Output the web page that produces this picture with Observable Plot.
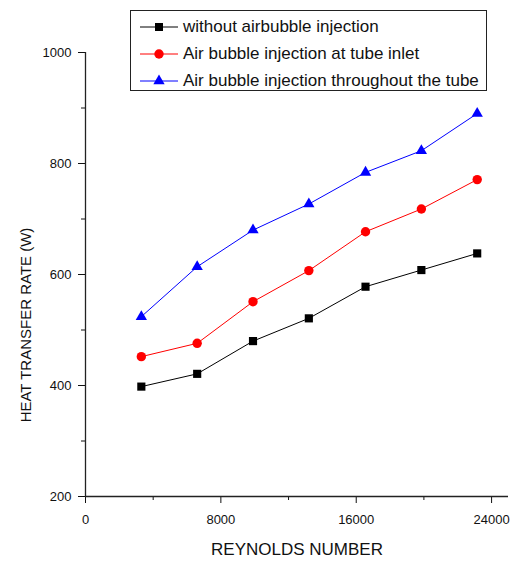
<!DOCTYPE html>
<html>
<head>
<meta charset="utf-8">
<script src="https://cdn.jsdelivr.net/npm/d3@7"></script>
<script src="https://cdn.jsdelivr.net/npm/@observablehq/plot@0.6"></script>
<style>
  html, body { margin: 0; padding: 0; background: #fff; }
  #wrap { position: relative; width: 516px; height: 565px; font-family: "Liberation Sans", Arial, sans-serif; }
  #legend { position: absolute; left: 130px; top: 10px; width: 355px; height: 79px; border: 1px solid #222; background: #fff; box-sizing: content-box; }
  .row { position: absolute; left: 0; height: 20px; display: flex; align-items: center; font-size: 17px; color: #111; white-space: nowrap; }
  .row svg { margin-left: 9px; margin-right: 5px; }
</style>
</head>
<body>
<div id="wrap"></div>
<script>
const reynolds = [3300, 6600, 9900, 13200, 16550, 19850, 23150];
const withoutBubble = [398, 421, 480, 521, 578, 608, 638];
const bubbleInlet = [452, 476, 551, 607, 677, 718, 771];
const bubbleThroughout = [524, 614, 680, 727, 784, 823, 890];
const seriesNames = ["without airbubble injection", "Air bubble injection at tube inlet", "Air bubble injection throughout the tube"];
const seriesColors = ["#000000", "#ff0000", "#0000ff"];
const seriesSymbols = ["square", "circle", "triangle"];
const xMajorTicks = [0, 8000, 16000, 24000];
const xMinorTicks = [4000, 12000, 20000];
const yMajorTicks = [200, 400, 600, 800, 1000];
const yMinorTicks = [300, 500, 700, 900];
const xTitle = "REYNOLDS NUMBER";
const yTitle = "HEAT TRANSFER RATE (W)";

const seriesValues = [withoutBubble, bubbleInlet, bubbleThroughout];
const data = [];
seriesValues.forEach((vals, s) => vals.forEach((v, i) => data.push({series: seriesNames[s], x: reynolds[i], y: v})));

const plot = Plot.plot({
  width: 516,
  height: 565,
  marginLeft: 85,
  marginRight: 8,
  marginTop: 52,
  marginBottom: 69,
  style: {fontFamily: "Liberation Sans, Arial, sans-serif", background: "#fff", color: "#111"},
  x: {domain: [0, 25000]},
  y: {domain: [200, 1000]},
  color: {domain: seriesNames, range: seriesColors},
  symbol: {domain: seriesNames, range: seriesSymbols},
  marks: [
    Plot.axisX({ticks: xMajorTicks, tickSize: 7, tickPadding: 11, fontSize: 13, label: null, tickFormat: d => String(d)}),
    Plot.axisX({ticks: xMinorTicks, tickSize: 4, text: null, label: null}),
    Plot.axisY({ticks: yMajorTicks, tickSize: 7, tickPadding: 7, fontSize: 13, label: null, tickFormat: d => String(d)}),
    Plot.axisY({ticks: yMinorTicks, tickSize: 4, text: null, label: null}),
    Plot.ruleX([0], {y1: 200, y2: 1000, stroke: "#222", strokeWidth: 1.3}),
    Plot.ruleY([200], {x1: 0, x2: 25000, stroke: "#222", strokeWidth: 1.3}),
    Plot.line(data, {x: "x", y: "y", z: "series", stroke: "series", strokeWidth: 1}),
    Plot.dot(data.filter(d => d.series === seriesNames[0]), {x: "x", y: "y", symbol: "series", fill: "series", stroke: "none", r: 4.6}),
    Plot.dot(data.filter(d => d.series === seriesNames[1]), {x: "x", y: "y", symbol: "series", fill: "series", stroke: "none", r: 4.7}),
    Plot.dot(data.filter(d => d.series === seriesNames[2]), {x: "x", y: "y", symbol: "series", fill: "series", stroke: "none", r: 4.2}),
    Plot.text([xTitle], {frameAnchor: "bottom", dy: 58, fontSize: 17, fill: "#111"})
  ]
});

const wrap = document.getElementById("wrap");
wrap.appendChild(plot);

d3.select(plot).append("text")
  .attr("transform", "translate(25,325) rotate(-90)")
  .attr("text-anchor", "middle")
  .attr("dominant-baseline", "central")
  .attr("font-size", 15)
  .attr("fill", "#111")
  .text(yTitle);

const legend = document.createElement("div");
legend.id = "legend";
const rowTops = [6, 33, 60];
seriesNames.forEach((name, i) => {
  const row = document.createElement("div");
  row.className = "row";
  row.style.top = rowTops[i] + "px";
  const sym = seriesSymbols[i];
  const col = seriesColors[i];
  let shape;
  if (sym === "square") shape = `<rect x="15" y="6" width="8" height="8" fill="${col}"/>`;
  else if (sym === "circle") shape = `<circle cx="19" cy="10" r="4.7" fill="${col}"/>`;
  else shape = `<path d="${d3.symbol(d3.symbolTriangle, 4.2 * 4.2 * Math.PI)()}" transform="translate(19,10)" fill="${col}"/>`;
  row.innerHTML = `<svg width="38" height="20"><line x1="0" x2="38" y1="10" y2="10" stroke="${col}" stroke-width="1"/>${shape}</svg><span>${name}</span>`;
  legend.appendChild(row);
});
wrap.appendChild(legend);
</script>
</body>
</html>
